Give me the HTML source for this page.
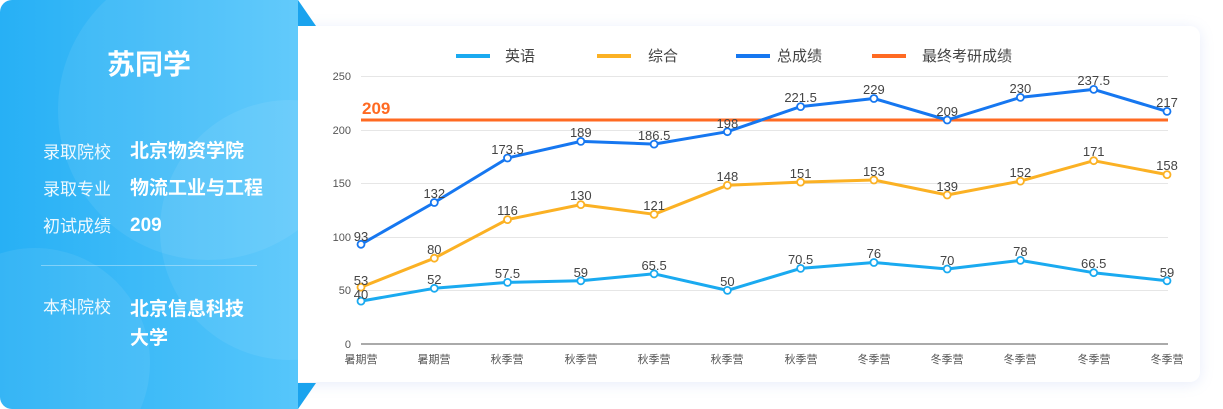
<!DOCTYPE html>
<html style="overflow:hidden;width:1223px;height:409px"><head><meta charset="utf-8"><style>
body{margin:0;width:1223px;height:409px;background:#fff;position:relative;overflow:hidden;font-family:"Liberation Sans","Noto Sans CJK SC",sans-serif}
.panel{position:absolute;left:0;top:0;width:298px;height:409px;border-radius:12px 0 0 12px;background:linear-gradient(90deg,#27b0f5,#56c6fb);overflow:hidden}
.c{position:absolute;border-radius:50%;background:rgba(255,255,255,0.07)}
.t{position:absolute;color:#fff;white-space:nowrap;line-height:24px}
.lab{font-size:17px;opacity:.92;left:43px}
.val{font-size:19px;font-weight:bold;left:130px}
.card{position:absolute;left:298px;top:26px;width:902px;height:356px;background:#fff;border-radius:0 10px 10px 0;box-shadow:0 2px 14px rgba(120,150,230,0.18)}
</style></head><body>
<div class="card"></div>
<div class="panel">
<div class="c" style="left:58px;top:-40px;width:300px;height:300px"></div>
<div class="c" style="left:160px;top:100px;width:260px;height:260px"></div>
<div class="c" style="left:-80px;top:248px;width:230px;height:230px"></div>
<div class="t" style="left:0;width:298px;text-align:center;top:48px;font-size:28px;line-height:34px;font-weight:bold">苏同学</div>
<div class="t lab" style="top:141px">录取院校</div><div class="t val" style="top:140px">北京物资学院</div>
<div class="t lab" style="top:178px">录取专业</div><div class="t val" style="top:177px">物流工业与工程</div>
<div class="t lab" style="top:215px">初试成绩</div><div class="t val" style="top:214px">209</div>
<div style="position:absolute;left:41px;top:265px;width:216px;height:1px;background:rgba(255,255,255,.35)"></div>
<div class="t lab" style="top:296px">本科院校</div><div class="t val" style="top:295px;line-height:29px">北京信息科技<br>大学</div>
</div>
<svg width="1223" height="409" style="position:absolute;left:0;top:0;display:block" font-family="Liberation Sans, Noto Sans CJK SC, sans-serif">
<polygon points="298,0 298,26 316,26" fill="#1aa3ee"/>
<polygon points="298,383 316,383 298,409" fill="#1aa3ee"/>
<g stroke="#e6e6e6" stroke-width="1">
<line x1="361" x2="1168" y1="76.5" y2="76.5"/><line x1="361" x2="1168" y1="130.5" y2="130.5"/><line x1="361" x2="1168" y1="183.5" y2="183.5"/><line x1="361" x2="1168" y1="237.5" y2="237.5"/><line x1="361" x2="1168" y1="290.5" y2="290.5"/>
</g>
<line x1="361" x2="1168" y1="344" y2="344" stroke="#777" stroke-width="1.2"/>
<g font-size="11" fill="#555" text-anchor="end">
<text x="351" y="80">250</text><text x="351" y="134">200</text><text x="351" y="187">150</text><text x="351" y="241">100</text><text x="351" y="294">50</text><text x="351" y="348">0</text>
</g>
<g font-size="11" fill="#555" text-anchor="middle">
<text x="361" y="363">暑期营</text><text x="434" y="363">暑期营</text><text x="507" y="363">秋季营</text><text x="581" y="363">秋季营</text><text x="654" y="363">秋季营</text><text x="727" y="363">秋季营</text><text x="801" y="363">秋季营</text><text x="874" y="363">冬季营</text><text x="947" y="363">冬季营</text><text x="1020" y="363">冬季营</text><text x="1094" y="363">冬季营</text><text x="1167" y="363">冬季营</text>
</g>
<g font-size="15" fill="#444">
<line x1="456" x2="490" y1="56" y2="56" stroke="#1aaaf0" stroke-width="4"/><text x="505" y="61">英语</text>
<line x1="597" x2="631" y1="56" y2="56" stroke="#fbb124" stroke-width="4"/><text x="648" y="61">综合</text>
<line x1="736" x2="770" y1="56" y2="56" stroke="#1677f0" stroke-width="4"/><text x="777" y="61">总成绩</text>
<line x1="872" x2="906" y1="56" y2="56" stroke="#ff6a22" stroke-width="4"/><text x="922" y="61">最终考研成绩</text>
</g>
<line x1="361" x2="1168" y1="120" y2="120" stroke="#ff6a22" stroke-width="3"/>
<text x="362" y="114" font-size="17" font-weight="bold" fill="#ff6a22">209</text>
<g fill="none" stroke-width="3" stroke-linejoin="round">
<polyline stroke="#1aaaf0" points="361,301.1 434.3,288.3 507.5,282.4 580.8,280.8 654.1,273.8 727.4,290.4 800.6,268.4 873.9,262.5 947.2,269 1020.4,260.4 1093.7,272.7 1167,280.8"/>
<polyline stroke="#fbb124" points="361,287.2 434.3,258.2 507.5,219.6 580.8,204.6 654.1,214.3 727.4,185.3 800.6,182.1 873.9,180 947.2,195 1020.4,181.1 1093.7,160.7 1167,174.6"/>
<polyline stroke="#1677f0" points="361,244.3 434.3,202.5 507.5,158 580.8,141.4 654.1,144.1 727.4,131.7 800.6,106.6 873.9,98.5 947.2,120 1020.4,97.4 1093.7,89.4 1167,111.4"/>
</g>
<g fill="#fff" stroke-width="1.8">
<g stroke="#1aaaf0"><circle cx="361" cy="301.1" r="3.5"/><circle cx="434.3" cy="288.3" r="3.5"/><circle cx="507.5" cy="282.4" r="3.5"/><circle cx="580.8" cy="280.8" r="3.5"/><circle cx="654.1" cy="273.8" r="3.5"/><circle cx="727.4" cy="290.4" r="3.5"/><circle cx="800.6" cy="268.4" r="3.5"/><circle cx="873.9" cy="262.5" r="3.5"/><circle cx="947.2" cy="269" r="3.5"/><circle cx="1020.4" cy="260.4" r="3.5"/><circle cx="1093.7" cy="272.7" r="3.5"/><circle cx="1167" cy="280.8" r="3.5"/></g>
<g stroke="#fbb124"><circle cx="361" cy="287.2" r="3.5"/><circle cx="434.3" cy="258.2" r="3.5"/><circle cx="507.5" cy="219.6" r="3.5"/><circle cx="580.8" cy="204.6" r="3.5"/><circle cx="654.1" cy="214.3" r="3.5"/><circle cx="727.4" cy="185.3" r="3.5"/><circle cx="800.6" cy="182.1" r="3.5"/><circle cx="873.9" cy="180" r="3.5"/><circle cx="947.2" cy="195" r="3.5"/><circle cx="1020.4" cy="181.1" r="3.5"/><circle cx="1093.7" cy="160.7" r="3.5"/><circle cx="1167" cy="174.6" r="3.5"/></g>
<g stroke="#1677f0"><circle cx="361" cy="244.3" r="3.5"/><circle cx="434.3" cy="202.5" r="3.5"/><circle cx="507.5" cy="158" r="3.5"/><circle cx="580.8" cy="141.4" r="3.5"/><circle cx="654.1" cy="144.1" r="3.5"/><circle cx="727.4" cy="131.7" r="3.5"/><circle cx="800.6" cy="106.6" r="3.5"/><circle cx="873.9" cy="98.5" r="3.5"/><circle cx="947.2" cy="120" r="3.5"/><circle cx="1020.4" cy="97.4" r="3.5"/><circle cx="1093.7" cy="89.4" r="3.5"/><circle cx="1167" cy="111.4" r="3.5"/></g>
</g>
<g font-size="13" fill="#444" text-anchor="middle">
<text x="361" y="299">40</text><text x="434.3" y="284">52</text><text x="507.5" y="278">57.5</text><text x="580.8" y="277">59</text><text x="654.1" y="270">65.5</text><text x="727.4" y="286">50</text><text x="800.6" y="264">70.5</text><text x="873.9" y="258">76</text><text x="947.2" y="265">70</text><text x="1020.4" y="256">78</text><text x="1093.7" y="268">66.5</text><text x="1167" y="277">59</text>
<text x="361" y="285">53</text><text x="434.3" y="254">80</text><text x="507.5" y="215">116</text><text x="580.8" y="200">130</text><text x="654.1" y="210">121</text><text x="727.4" y="181">148</text><text x="800.6" y="178">151</text><text x="873.9" y="176">153</text><text x="947.2" y="191">139</text><text x="1020.4" y="177">152</text><text x="1093.7" y="156">171</text><text x="1167" y="170">158</text>
<text x="361" y="241">93</text><text x="434.3" y="198">132</text><text x="507.5" y="154">173.5</text><text x="580.8" y="137">189</text><text x="654.1" y="140">186.5</text><text x="727.4" y="128">198</text><text x="800.6" y="102">221.5</text><text x="873.9" y="94">229</text><text x="947.2" y="116">209</text><text x="1020.4" y="93">230</text><text x="1093.7" y="85">237.5</text><text x="1167" y="107">217</text>
</g>
</svg>
</body></html>
